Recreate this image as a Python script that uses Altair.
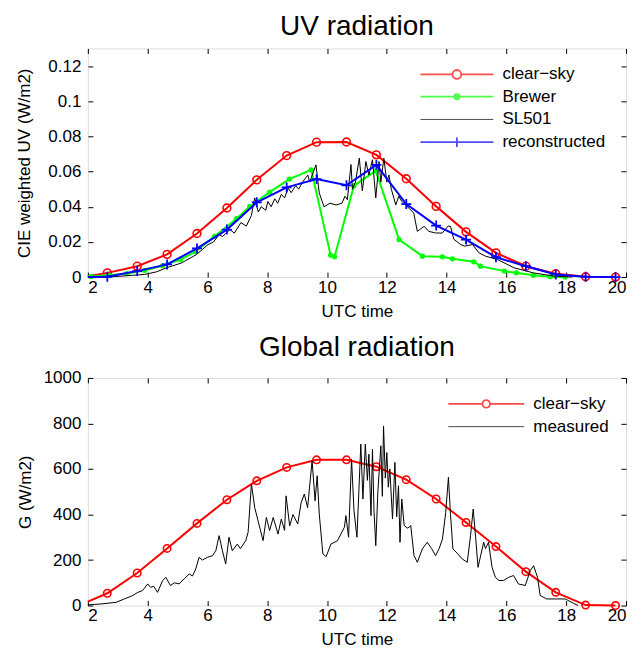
import altair as alt
import pandas as pd

FONT = "Liberation Sans"

# ---------------- data ----------------
cs_hours = [2.0, 2.65, 3.65, 4.65, 5.65, 6.65, 7.65, 8.65, 9.65, 10.65,
            11.65, 12.65, 13.65, 14.65, 15.65, 16.65, 17.65, 18.65, 19.65]
uv_clear = [0.0005, 0.0024, 0.0062, 0.0129, 0.0248, 0.0393, 0.0553, 0.0691, 0.0767, 0.0768,
            0.0695, 0.0559, 0.0402, 0.0257, 0.0138, 0.0062, 0.0019, 0.0002, 0.0]
uv_recon = [0.0, 0.0002, 0.0034, 0.0072, 0.0163, 0.0270, 0.0425, 0.0510, 0.0557, 0.0522,
            0.0638, 0.0415, 0.0293, 0.0213, 0.0113, 0.0062, 0.0015, 0.0002, 0.0]
g_clear = [17, 54, 143, 251, 361, 465, 548, 607, 640, 640,
           610, 553, 468, 365, 259, 149, 58, 2, 0]

brewer_hours = [2.1, 2.7, 3.3, 3.9, 4.5, 5.1, 5.6, 6.24, 6.97, 7.41, 8.08, 8.74, 9.47,
                10.12, 10.25, 10.9, 11.63, 12.41, 13.19, 13.86, 14.19, 14.91, 15.13,
                15.93, 16.33, 16.9, 17.47, 17.97]
brewer_uv = [0.0003, 0.001, 0.002, 0.0038, 0.0065, 0.010, 0.0145, 0.0232, 0.0332, 0.040,
             0.0483, 0.0557, 0.061, 0.0125, 0.0115, 0.052, 0.0604, 0.0213, 0.0119, 0.0115,
             0.0104, 0.0087, 0.0062, 0.0034, 0.0024, 0.001, 0.0002, 0.0]

sl501_hours = [2.0, 2.65, 3.0, 3.5, 3.9, 4.3, 4.63, 5.13, 5.63, 6.02, 6.2, 6.4, 6.5, 6.75,
               6.9, 7.12, 7.3, 7.47, 7.58, 7.7, 7.8, 7.95, 8.02, 8.13, 8.25, 8.35, 8.47,
               8.58, 8.7, 8.8, 8.95, 9.05, 9.2, 9.36, 9.42, 9.63, 9.74, 9.9, 10.1, 10.3,
               10.5, 10.6, 10.68, 10.8, 10.85, 10.95, 11.08, 11.18, 11.3, 11.4, 11.52,
               11.63, 11.74, 11.8, 11.9, 12.0, 12.07, 12.15, 12.3, 12.4, 12.5, 12.63,
               12.75, 12.9, 13.02, 13.1, 13.25, 13.4, 13.63, 13.85, 14.05, 14.13, 14.24,
               14.47, 14.6, 14.87, 15.08, 15.3, 15.7, 16.25, 16.9, 17.57, 18.2]
sl501_uv = [0.0, 0.0001, 0.0004, 0.001, 0.0015, 0.003, 0.0053, 0.008, 0.0128, 0.0185, 0.020,
            0.0242, 0.023, 0.027, 0.025, 0.031, 0.029, 0.035, 0.045, 0.037, 0.040, 0.038,
            0.043, 0.040, 0.0445, 0.042, 0.047, 0.045, 0.0506, 0.048, 0.052, 0.050, 0.0545,
            0.058, 0.054, 0.0638, 0.0478, 0.040, 0.042, 0.041, 0.042, 0.046, 0.044, 0.064,
            0.050, 0.054, 0.0676, 0.049, 0.0657, 0.058, 0.0667, 0.045, 0.0657, 0.054,
            0.0676, 0.054, 0.058, 0.050, 0.041, 0.046, 0.043, 0.041, 0.039, 0.0364, 0.026,
            0.027, 0.0289, 0.026, 0.0251, 0.025, 0.029, 0.0289, 0.0215, 0.0185, 0.0176,
            0.0185, 0.0138, 0.0119, 0.010, 0.0053, 0.0024, 0.0006, 0.0]

meas_hours = [2.0, 2.44, 2.94, 3.22, 3.5, 3.67, 3.83, 4.0, 4.1, 4.2, 4.33, 4.5, 4.61, 4.76,
              4.9, 5.05, 5.22, 5.39, 5.5, 5.61, 5.72, 5.83, 6.0, 6.17, 6.28, 6.39, 6.5,
              6.61, 6.72, 6.83, 7.0, 7.1, 7.28, 7.36, 7.47, 7.58, 7.86, 7.97, 8.08, 8.2,
              8.36, 8.47, 8.58, 8.63, 8.75, 8.86, 9.02, 9.13, 9.24, 9.35, 9.5, 9.6, 9.67,
              9.74, 9.86, 9.97, 10.13, 10.35, 10.58, 10.63, 10.72, 10.82, 10.9, 11.0,
              11.13, 11.2, 11.28, 11.35, 11.4, 11.47, 11.52, 11.57, 11.63, 11.7, 11.8,
              11.85, 11.89, 11.95, 12.0, 12.05, 12.1, 12.19, 12.27, 12.33, 12.39, 12.44,
              12.5, 12.58, 12.7, 12.8, 12.91, 13.02, 13.19, 13.35, 13.5, 13.63, 13.75,
              13.86, 13.97, 14.06, 14.13, 14.21, 14.35, 14.52, 14.69, 14.8, 14.89, 14.97,
              15.05, 15.24, 15.3, 15.4, 15.52, 15.63, 15.75, 15.9, 16.08, 16.24, 16.4,
              16.63, 16.8, 16.91, 17.04, 17.13, 17.35, 17.7, 17.97, 18.24, 18.4]
meas_g = [3, 7, 14, 29, 44, 58, 66, 95, 80, 85, 58, 110, 124, 88, 100, 95, 117, 139, 130,
          161, 212, 200, 212, 219, 241, 307, 241, 183, 300, 241, 270, 250, 285, 322, 534,
          431, 285, 387, 330, 387, 314, 380, 330, 482, 350, 400, 358, 450, 490, 430, 636,
          460, 570, 402, 227, 215, 270, 285, 344, 395, 300, 643, 420, 300, 709, 468, 709,
          550, 665, 395, 687, 420, 263, 500, 702, 480, 789, 560, 672, 520, 600, 380, 629,
          390, 526, 278, 468, 351, 340, 351, 219, 190, 249, 278, 250, 219, 250, 292, 409,
          563, 400, 249, 230, 205, 190, 307, 424, 300, 168, 278, 250, 278, 168, 124, 110,
          110, 124, 132, 95, 88, 154, 175, 124, 44, 29, 29, 29, 10, 0]

x_ticks = [2, 4, 6, 8, 10, 12, 14, 16, 18, 20]
uv_ticks = [0, 0.02, 0.04, 0.06, 0.08, 0.1, 0.12]
g_ticks = [0, 200, 400, 600, 800, 1000]

top_names = ["clear\u2212sky", "Brewer", "SL501", "reconstructed"]
bot_names = ["clear\u2212sky", "measured"]

# ---------------- frames ----------------
top_cs = pd.DataFrame({"hour": cs_hours, "v": uv_clear})
top_rc = pd.DataFrame({"hour": cs_hours, "v": uv_recon})
top_br = pd.DataFrame({"hour": brewer_hours, "v": brewer_uv})
top_sl = pd.DataFrame({"hour": sl501_hours, "v": sl501_uv})
bot_cs = pd.DataFrame({"hour": cs_hours, "v": g_clear})
bot_me = pd.DataFrame({"hour": meas_hours, "v": meas_g})

W = 539
H1 = 229
H2 = 228

RED = "#ff0000"
GREEN = "#00ff00"
BLUE = "#0000ff"
BLACK = "#000000"


def axes_sets(H, ytitle, yticks, yfmt, ytpad):
    common = dict(grid=False, domain=False, tickColor=BLACK, tickWidth=1)
    xa = alt.Axis(orient="bottom", values=x_ticks, tickSize=0, labelPadding=2,
                  title="UTC time", titlePadding=8, labelFontSize=17, titleFontSize=17,
                  labelFont=FONT, titleFont=FONT, labelColor=BLACK, titleColor=BLACK,
                  titleFontWeight="normal", format="d", **common)
    ya = alt.Axis(orient="left", values=yticks, tickSize=0, labelPadding=7,
                  title=ytitle, titlePadding=ytpad, labelFontSize=17, titleFontSize=17,
                  labelFont=FONT, titleFont=FONT, labelColor=BLACK, titleColor=BLACK,
                  titleFontWeight="normal", format=yfmt, **common)
    xb = alt.Axis(orient="top", offset=-H, values=x_ticks, tickSize=5, labels=False,
                  title=None, **common)
    yb = alt.Axis(orient="right", offset=-W, values=yticks, tickSize=5, labels=False,
                  title=None, **common)
    xc = alt.Axis(orient="bottom", offset=-H, values=x_ticks, tickSize=5, labels=False,
                  title=None, **common)
    yc = alt.Axis(orient="left", offset=-W, values=yticks, tickSize=5, labels=False,
                  title=None, **common)
    return (xa, ya), (xb, yb), (xc, yc)


def enc(axpair, ydom):
    xa, ya = axpair if axpair is not None else (None, None)
    return dict(
        x=alt.X("hour:Q", scale=alt.Scale(domain=[2, 20], nice=False, zero=False), axis=xa),
        y=alt.Y("v:Q", scale=alt.Scale(domain=ydom, nice=False), axis=ya),
    )


def legend_layer(names, colors, fills, shapes, widths, label_offset, lx, ly):
    lg = alt.Legend(orient="none", legendX=lx, legendY=ly, title=None, symbolSize=256,
                    labelOffset=label_offset, labelFontSize=17, labelFont=FONT,
                    labelColor=BLACK, rowPadding=5.3, symbolStrokeWidth=1.8, padding=0)
    df = pd.DataFrame({"series": names})
    return alt.Chart(df).transform_filter(alt.datum.series == "none").mark_point().encode(
        color=alt.Color("series:N", scale=alt.Scale(domain=names, range=colors), legend=lg),
        fill=alt.Fill("series:N", scale=alt.Scale(domain=names, range=fills), legend=lg),
        shape=alt.Shape("series:N", scale=alt.Scale(domain=names, range=shapes), legend=lg),
        strokeWidth=alt.StrokeWidth("series:N", scale=alt.Scale(type="ordinal", domain=names,
                                                                range=widths), legend=lg),
    )


PLUS = "M-1,0H1M0,-1V1"

# ---------------- top panel ----------------
A1, B1, C1 = axes_sets(H1, "CIE weighted UV (W/m2)", uv_ticks, "~g", 14)
ud = [0, 0.13]

t_cs_line = alt.Chart(top_cs).mark_line(color=RED, strokeWidth=2).encode(**enc(B1, ud))
t_cs_pts = alt.Chart(top_cs).transform_filter(alt.datum.hour > 2).mark_point(
    shape="circle", filled=False, color=RED, size=60, strokeWidth=1.6, opacity=1
).encode(**enc(None, ud))
t_br_line = alt.Chart(top_br).mark_line(color=GREEN, strokeWidth=2).encode(**enc(C1, ud))
t_br_pts = alt.Chart(top_br).mark_point(
    shape="circle", filled=True, color=GREEN, size=28, opacity=1
).encode(**enc(None, ud))
t_sl_line = alt.Chart(top_sl).mark_line(color=BLACK, strokeWidth=1).encode(**enc(A1, ud))
t_rc_line = alt.Chart(top_rc).mark_line(color=BLUE, strokeWidth=2).encode(**enc(None, ud))
t_rc_pts = alt.Chart(top_rc).transform_filter(alt.datum.hour > 2).mark_point(
    shape=PLUS, filled=False, color=BLUE, size=100, strokeWidth=1.8, opacity=1
).encode(**enc(None, ud))

top_shapes = [
    "M-4.56,0H-0.55M0.55,0H4.56M-0.55,0A0.55,0.55 0 1,0 0.55,0A0.55,0.55 0 1,0 -0.55,0Z",
    "M-4.56,0H4.56M-0.32,0A0.32,0.32 0 1,0 0.32,0A0.32,0.32 0 1,0 -0.32,0Z",
    "M-4.56,0H4.56",
    "M-4.56,0H4.56M0,-0.6V0.6",
]
t_leg = legend_layer(top_names, [RED, GREEN, BLACK, BLUE],
                     ["#ffffff", GREEN, "transparent", "transparent"], top_shapes,
                     [1.8, 1.8, 1.0, 1.8], 36.6, 360.6, 17)

top = alt.layer(t_cs_line, t_cs_pts, t_br_line, t_br_pts, t_sl_line, t_rc_line, t_rc_pts,
                t_leg).resolve_axis(x="independent", y="independent").properties(
    width=W, height=H1,
    title=alt.Title("UV radiation", fontSize=28, fontWeight="normal", font=FONT,
                    color=BLACK, anchor="middle", frame="group", offset=7))

# ---------------- bottom panel ----------------
A2, B2, C2 = axes_sets(H2, "G (W/m2)", g_ticks, "d", 9)
gd = [0, 1000]

b_cs_line = alt.Chart(bot_cs).mark_line(color=RED, strokeWidth=2).encode(**enc(B2, gd))
b_cs_pts = alt.Chart(bot_cs).transform_filter(alt.datum.hour > 2).mark_point(
    shape="circle", filled=False, color=RED, size=55, strokeWidth=1.6, opacity=1
).encode(**enc(C2, gd))
b_me_line = alt.Chart(bot_me).mark_line(color=BLACK, strokeWidth=1).encode(**enc(A2, gd))

bot_shapes = [
    "M-4.75,0H-0.47M0.47,0H4.75M-0.47,0A0.47,0.47 0 1,0 0.47,0A0.47,0.47 0 1,0 -0.47,0Z",
    "M-4.75,0H4.75",
]
b_leg = legend_layer(bot_names, [RED, BLACK], ["#ffffff", "transparent"], bot_shapes,
                     [1.8, 1.0], 38.1, 390, 17)

bottom = alt.layer(b_cs_line, b_cs_pts, b_me_line, b_leg).resolve_axis(
    x="independent", y="independent").properties(
    width=W, height=H2,
    title=alt.Title("Global radiation", fontSize=28, fontWeight="normal", font=FONT,
                    color=BLACK, anchor="middle", frame="group", offset=7))

chart = alt.vconcat(top, bottom, spacing=13).resolve_legend(
    color="independent", fill="independent", shape="independent", strokeWidth="independent"
).resolve_scale(color="independent", fill="independent", shape="independent",
                strokeWidth="independent").properties(
    padding={"left": 7, "top": 4, "right": 0, "bottom": 0}
).configure_view(stroke=BLACK, strokeWidth=1).configure(background="white")

chart.save("out.html", embed_options={"renderer": "svg", "actions": False})
